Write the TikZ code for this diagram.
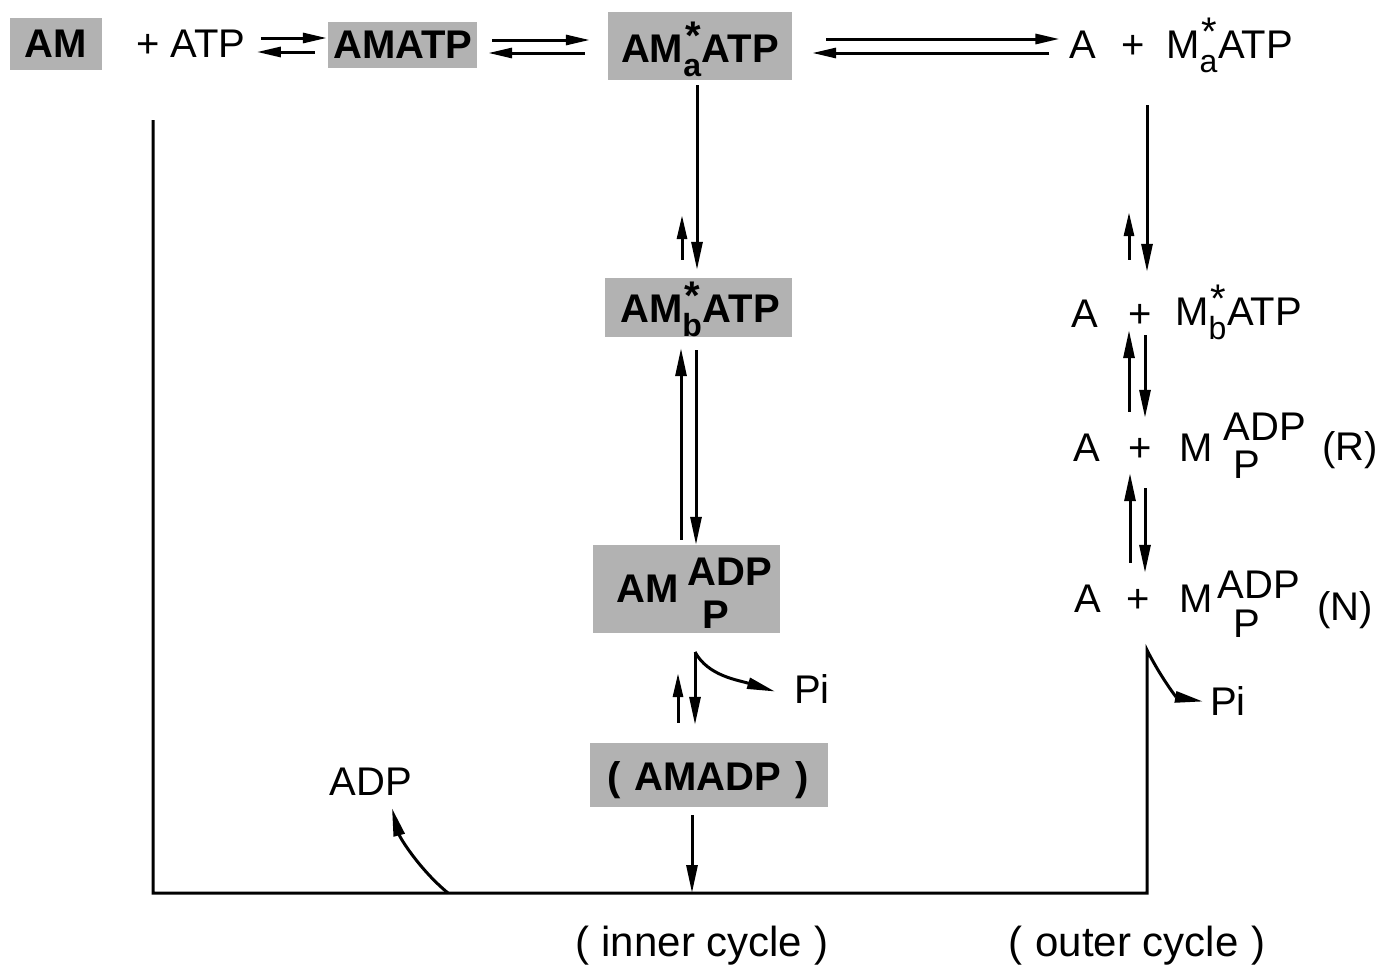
\documentclass[tikz,border=0pt]{standalone}
\usepackage{fontspec}
\setmainfont{Liberation Sans}
\usetikzlibrary{arrows.meta,calc}

% starred state label: asterisk above, state letter below
\newcommand{\supsub}[2]{\makebox[0pt][l]{\hspace{0.05em}\raisebox{0.32em}{#1}}\raisebox{-0.35em}{\fontsize{32}{32}\selectfont #2}}

\begin{document}
\begin{tikzpicture}[x=1pt,y=-1pt,
  txt/.style={inner sep=0pt, font=\fontsize{40}{44}\selectfont, text height=29pt, text depth=0pt},
  btxt/.style={inner sep=0pt, font=\bfseries\fontsize{40}{44}\selectfont},
  lbl/.style={inner sep=0pt, font=\fontsize{42}{46}\selectfont},
  gbox/.style={fill=black!30, inner sep=0pt},
  ln/.style={line width=3pt},
  arr/.style={line width=3pt, -{Triangle[length=28pt,width=11pt]}},
  sarr/.style={line width=3pt, -{Triangle[length=24pt,width=10pt]}}]
\useasboundingbox (0,0) rectangle (1393,972);
\fill[white] (0,0) rectangle (1393,972);

% ---------- shaded actomyosin states ----------
\node[gbox, minimum width=92pt,  minimum height=52pt] (bAM)    at (56,44)      {};
\node[gbox, minimum width=149pt, minimum height=46pt] (bAMATP) at (402.5,45)   {};
\node[gbox, minimum width=184pt, minimum height=68pt] (bAMa)   at (700,46)     {};
\node[gbox, minimum width=187pt, minimum height=59pt] (bAMb)   at (698.5,307.5){};
\node[gbox, minimum width=187pt, minimum height=88pt] (bAMp)   at (686.5,589)  {};
\node[gbox, minimum width=238pt, minimum height=64pt] (bAMd)   at (709,775)    {};

\node[btxt, anchor=base] (tAM)    at (56,57)  {AM};
\node[txt,  anchor=base] (tATP)   at (191,57) {+ ATP};
\node[btxt, anchor=base] (tAMATP) at (403,58) {AMATP};
\node[btxt, anchor=base] (tAMa)   at (700,62) {AM\supsub{*}{a}\kern0.02em ATP};
\node[btxt, anchor=base] (tAMb)   at (700,322){AM\supsub{*}{b}\kern0.02em ATP};
\node[btxt, anchor=base] (tAMp1)  at (648,602){AM};
\node[btxt, anchor=base] (tAMp2)  at (730,585){ADP};
\node[btxt, anchor=base] (tAMp3)  at (716,628){P};
\node[btxt, anchor=base] (tAMd)   at (708,790){(\hspace{0.35em}AMADP\hspace{0.35em})};

% ---------- detached states (outer column) ----------
\node[txt, anchor=base]      (rA1) at (1083,58)  {A};
\node[txt, anchor=base]      (rP1) at (1133,58)  {+};
\node[txt, anchor=base west] (rM1) at (1166,58)  {M\supsub{*}{a}\kern0.02em ATP};

\node[txt, anchor=base]      (rA2) at (1085,327) {A};
\node[txt, anchor=base]      (rP2) at (1140,327) {+};
\node[txt, anchor=base west] (rM2) at (1175,325) {M\supsub{*}{b}\kern0.02em ATP};

\node[txt, anchor=base] (rA3) at (1087,461) {A};
\node[txt, anchor=base] (rP3) at (1140,461) {+};
\node[txt, anchor=base] (rM3) at (1196,461) {M};
\node[txt, anchor=base] (rD3) at (1265,440) {ADP};
\node[txt, anchor=base] (rQ3) at (1247,478) {P};
\node[txt, anchor=base] (rR3) at (1350,460) {(R)};

\node[txt, anchor=base] (rA4) at (1088,612) {A};
\node[txt, anchor=base] (rP4) at (1138,612) {+};
\node[txt, anchor=base] (rM4) at (1196,612) {M};
\node[txt, anchor=base] (rD4) at (1259,598) {ADP};
\node[txt, anchor=base] (rQ4) at (1247,637) {P};
\node[txt, anchor=base] (rN4) at (1345,620) {(N)};

% ---------- products and captions ----------
\node[txt, anchor=base] (Pi1)  at (812,703)  {Pi};
\node[txt, anchor=base] (Pi2)  at (1228,715) {Pi};
\node[txt, anchor=base] (tADP) at (371,795)  {ADP};
\node[lbl, anchor=base] (capI) at (702,956)  {(\hspace{0.3em}inner cycle\hspace{0.3em})};
\node[lbl, anchor=base] (capO) at (1137,956) {(\hspace{0.3em}outer cycle\hspace{0.3em})};

% ---------- helper coordinates ----------
\coordinate (c0) at (682,0);
\coordinate (c1) at (697,0);
\coordinate (c2) at (681,0);
\coordinate (c3) at (696,0);
\coordinate (c4) at (678,0);
\coordinate (c5) at (692,0);
\coordinate (r0) at (1129,0);
\coordinate (r1) at (1147,0);
\coordinate (r2) at (1145,0);
\coordinate (r3) at (1130,0);
\coordinate (yT1) at (0,38);
\coordinate (yB1) at (0,52);
\coordinate (yT2) at (0,40);
\coordinate (yB2) at (0,53);
\coordinate (yT3) at (0,39);
\coordinate (yB3) at (0,53);
\coordinate (cTL) at (153,120);
\coordinate (cBL) at (153,893);
\coordinate (cBR) at (1147,893);
\coordinate (hk1) at (695,652);
\coordinate (hk2) at (1147,650);
\coordinate (adpFoot) at (448,893);

% ---------- top row equilibria ----------
\draw[sarr, shorten <=15pt, shorten >=1pt]  (tATP.east |- yT1) -- (bAMATP.west |- yT1);
\draw[sarr, shorten <=13pt, shorten >=11pt] (bAMATP.west |- yB1) -- (tATP.east |- yB1);
\draw[sarr, shorten <=15pt, shorten >=18pt] (bAMATP.east |- yT2) -- (bAMa.west |- yT2);
\draw[sarr, shorten <=23pt, shorten >=11pt] (bAMa.west |- yB2) -- (bAMATP.east |- yB2);
\draw[sarr, shorten <=34pt, shorten >=10pt] (bAMa.east |- yT3) -- (rA1.west |- yT3);
\draw[sarr, shorten <=20pt, shorten >=20pt] (rA1.west |- yB3) -- (bAMa.east |- yB3);

% ---------- inner column ----------
\draw[arr,  shorten <=5pt,  shorten >=8pt]   (bAMa.south -| c1) -- (bAMb.north -| c1);
\draw[sarr, shorten <=18pt, shorten >=135pt] (bAMb.north -| c0) -- (bAMa.south -| c0);
\draw[arr,  shorten <=5pt,  shorten >=11pt]  (bAMp.north -| c2) -- (bAMb.south -| c2);
\draw[arr,  shorten <=13pt]                  (bAMb.south -| c3) -- (bAMp.north -| c3);
\draw[arr,  shorten >=18pt] (hk1) -- (hk1 |- bAMd.north);
\draw[arr] (hk1) .. controls (708,676) and (738,680) .. ($(Pi1.west)+(-19,3)$);
\draw[sarr, shorten <=20pt, shorten >=40pt]  (bAMd.north -| c4) -- (bAMp.south -| c4);
\draw[arr,  shorten <=8pt]                   (bAMd.south -| c5) -- (c5 |- cBL);

% ---------- outer column ----------
\draw[arr,  shorten <=47pt, shorten >=26pt]  (rP1.south -| r1) -- (rP2.north -| r1);
\draw[sarr, shorten <=38pt, shorten >=154pt] (rP2.north -| r0) -- (rP1.south -| r0);
\draw[arr,  shorten <=20pt, shorten >=3pt]   (rP3.north -| r0) -- (rP2.south -| r0);
\draw[arr,  shorten <=8pt,  shorten >=14pt]  (rP2.south -| r2) -- (rP3.north -| r2);
\draw[arr,  shorten <=20pt, shorten >=12pt]  (rP4.north -| r3) -- (rP3.south -| r3);
\draw[arr,  shorten <=27pt, shorten >=10pt]  (rP3.south -| r2) -- (rP4.north -| r2);

% ---------- return path closing both cycles ----------
\draw[arr, line join=miter] (cTL) -- (cBL) -- (cBR) -- (hk2)
  .. controls (1160,676) and (1176,697) .. ($(Pi2.west)+(-7,1)$);
\draw[arr] (adpFoot) .. controls (420,870) and (400,838) .. ($(tADP.south)+(21,13)$);
\end{tikzpicture}
\end{document}
